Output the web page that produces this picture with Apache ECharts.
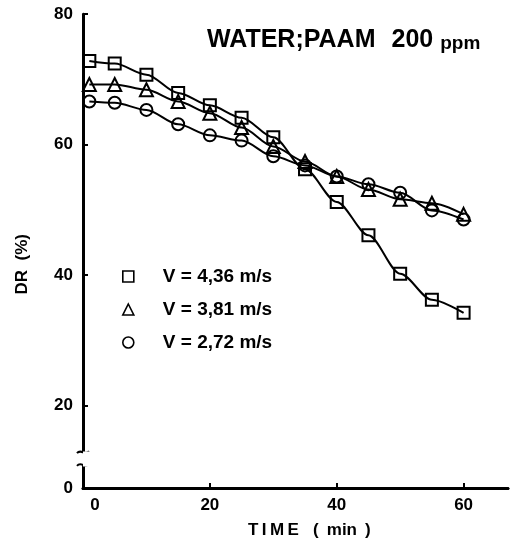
<!DOCTYPE html>
<html>
<head>
<meta charset="utf-8">
<script src="https://cdn.jsdelivr.net/npm/echarts@6/dist/echarts.min.js"></script>
<style>
  html, body { margin: 0; padding: 0; background: #fff; }
  #chart { width: 512px; height: 544px; }
</style>
</head>
<body>
<div id="chart"></div>
<script>
// Drag reduction of water + PAAM (200 ppm) versus shearing time, three flow velocities
const timeMin = [1, 5, 10, 15, 20, 25, 30, 35, 40, 45, 50, 55, 60];
const drV436 = [72.8, 72.4, 70.7, 67.9, 66.0, 64.1, 61.1, 56.2, 51.2, 46.1, 40.2, 36.2, 34.2];
const drV381 = [69.2, 69.2, 68.4, 66.6, 64.8, 62.6, 59.7, 57.4, 55.1, 53.1, 51.6, 51.0, 49.3];
const drV272 = [66.6, 66.4, 65.3, 63.1, 61.4, 60.6, 58.2, 56.8, 55.1, 53.9, 52.6, 49.9, 48.5];
const seriesNames = ['V = 4,36 m/s', 'V = 3,81 m/s', 'V = 2,72 m/s'];
const xTickValues = [0, 20, 40, 60];
const yTickValues = [0, 20, 40, 60, 80];
const yBreak = [3.4, 13];

const FONT = '"Liberation Sans", Arial, Helvetica, sans-serif';
const INK = '#000';

const pairs = (ys) => timeMin.map((t, i) => [t, ys[i]]);

function makeSeries(name, ys, symbol, size) {
  return {
    name: name,
    type: 'line',
    data: pairs(ys),
    smooth: 0.3,
    smoothMonotone: 'x',
    symbol: symbol,
    symbolSize: size,
    xAxisIndex: 0,
    yAxisIndex: 0,
    lineStyle: { color: INK, width: 2 },
    itemStyle: { color: 'rgba(0,0,0,0)', borderColor: INK, borderWidth: 2 },
    emphasis: { disabled: true },
    z: 3
  };
}

const chart = echarts.init(document.getElementById('chart'), null, { renderer: 'canvas' });

const legendItem = (name, icon) => ({
  name: name,
  icon: icon,
  itemStyle: { color: 'rgba(0,0,0,0)', borderColor: INK, borderWidth: 1.6 }
});

const labelFont = { fontFamily: FONT, fontWeight: 'bold', fontSize: 17, color: INK };

const option = {
  backgroundColor: '#fff',
  animation: false,
  title: {
    text: '{a|WATER;PAAM}{c|200}{b|ppm}',
    left: 202,
    top: 23,
    textStyle: {
      rich: {
        a: { fontFamily: FONT, fontWeight: 'bold', fontSize: 25, color: INK },
        c: { fontFamily: FONT, fontWeight: 'bold', fontSize: 25, color: INK, padding: [0, 0, 0, 16] },
        b: { fontFamily: FONT, fontWeight: 'bold', fontSize: 19, color: INK, padding: [6, 0, 0, 7] }
      }
    }
  },
  legend: {
    orient: 'vertical',
    left: 117,
    top: 262,
    itemWidth: 11,
    itemHeight: 11,
    itemGap: 14,
    selectedMode: false,
    data: [
      legendItem(seriesNames[0], 'rect'),
      legendItem(seriesNames[1], 'triangle'),
      legendItem(seriesNames[2], 'circle')
    ],
    textStyle: {
      fontFamily: FONT,
      fontWeight: 'bold',
      fontSize: 19,
      color: INK,
      padding: [0, 0, 0, 24]
    }
  },
  grid: { left: 83, right: 4, top: 14, bottom: 56 },
  xAxis: [
    {
      type: 'value',
      min: 0,
      max: 67,
      interval: 20,
      position: 'bottom',
      axisLine: { lineStyle: { color: INK, width: 3 } },
      axisTick: { inside: true, length: 5, lineStyle: { color: INK, width: 2 } },
      splitLine: { show: false },
      axisLabel: Object.assign({
        margin: 9,
        showMaxLabel: false,
        formatter: (v) => xTickValues.includes(v) ? (v === 0 ? '{z|0}' : String(v)) : '',
        rich: { z: Object.assign({ padding: [0, 0, 0, 24] }, labelFont) }
      }, labelFont)
    },
    {
      type: 'value',
      min: 0,
      max: 67,
      position: 'top',
      axisLine: { lineStyle: { color: INK, width: 2.5 } },
      axisTick: { show: false },
      axisLabel: { show: false },
      splitLine: { show: false }
    }
  ],
  yAxis: [
    {
      type: 'value',
      min: 0,
      max: 80,
      interval: 20,
      position: 'left',
      breaks: [{ start: yBreak[0], end: yBreak[1], gap: 2.24 }],
      breakArea: {
        show: true,
        zigzagAmplitude: 0,
        itemStyle: { color: '#fff', borderColor: '#fff', borderWidth: 0, opacity: 1 }
      },
      axisLine: { lineStyle: { color: INK, width: 3 } },
      axisTick: { inside: true, length: 5, customValues: yTickValues, lineStyle: { color: INK, width: 2 } },
      splitLine: { show: false },
      axisLabel: Object.assign({
        margin: 10,
        customValues: yTickValues,
        formatter: (v) => String(v)
      }, labelFont)
    },
    {
      type: 'value',
      min: 0,
      max: 80,
      position: 'right',
      axisLine: { show: true, lineStyle: { color: INK, width: 2.5 } },
      axisTick: { show: false },
      axisLabel: { show: false },
      splitLine: { show: false }
    }
  ],
  series: [
    makeSeries(seriesNames[0], drV436, 'rect', 12),
    makeSeries(seriesNames[1], drV381, 'triangle', 13),
    makeSeries(seriesNames[2], drV272, 'circle', 12)
  ],
  graphic: [
    {
      type: 'text',
      left: 14,
      top: 234,
      rotation: Math.PI / 2,
      style: { text: 'DR  (%)', font: 'bold 17px ' + FONT, fill: INK }
    },
    {
      type: 'text',
      left: 248,
      top: 522,
      style: { text: 'T\u2009I\u2009M\u2009E   (\u2009 min \u2009)', font: 'bold 17px ' + FONT, fill: INK }
    }
  ]
};

chart.setOption(option);

// Gap in the y axis line at the scale break, with a small curl on each side
const pTop = chart.convertToPixel({ xAxisIndex: 0, yAxisIndex: 0 }, [0, yBreak[1]]);
const pBot = chart.convertToPixel({ xAxisIndex: 0, yAxisIndex: 0 }, [0, yBreak[0]]);
const curl = (x, y) => ({
  type: 'bezierCurve',
  shape: { x1: x - 6, y1: y + 1, cpx1: x - 2, cpy1: y - 4, cpx2: x + 2, cpy2: y + 4, x2: x + 6, y2: y - 1 },
  style: { stroke: INK, lineWidth: 2, fill: null },
  z: 10
});
chart.setOption({
  graphic: [
    option.graphic[0],
    option.graphic[1],
    {
      type: 'rect',
      shape: { x: pTop[0] - 4, y: pTop[1] + 1, width: 8, height: pBot[1] - pTop[1] - 2 },
      style: { fill: '#fff' },
      z: 9
    },
    curl(pTop[0], pTop[1] + 1),
    curl(pBot[0], pBot[1] - 1)
  ]
});
</script>
</body>
</html>
